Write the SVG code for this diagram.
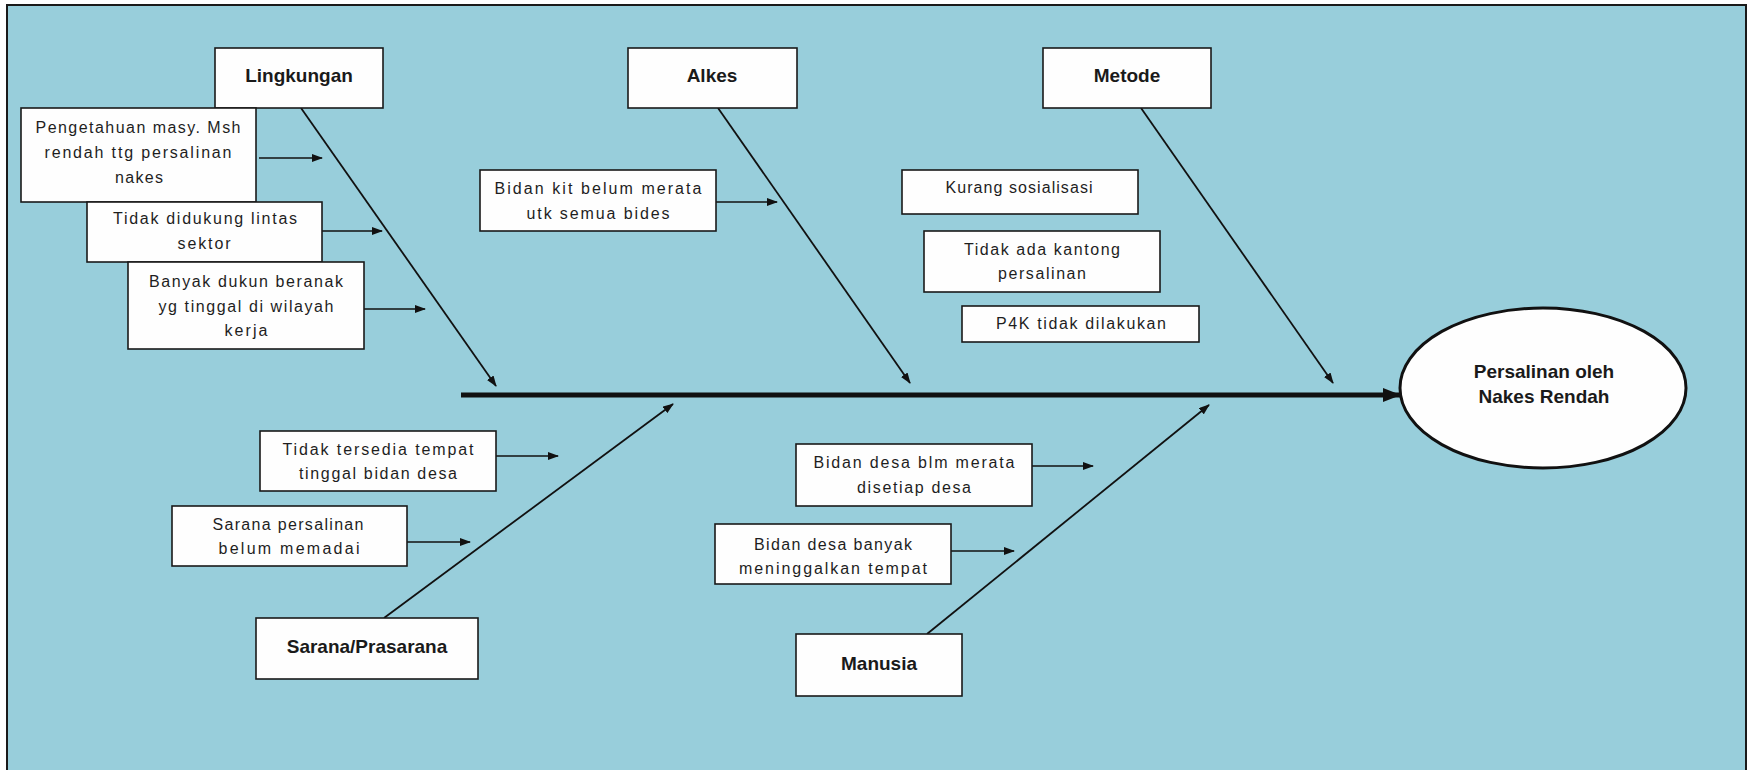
<svg xmlns="http://www.w3.org/2000/svg" width="1752" height="770" viewBox="0 0 1752 770">
  <defs>
    <marker id="tip" markerUnits="userSpaceOnUse" markerWidth="11" markerHeight="8" refX="10" refY="4" orient="auto">
      <path d="M0,0 L11,4 L0,8 z" fill="#111"/>
    </marker>
    <marker id="spineTip" markerUnits="userSpaceOnUse" markerWidth="18" markerHeight="14" refX="17" refY="7" orient="auto">
      <path d="M0,0 L18,7 L0,14 z" fill="#111"/>
    </marker>
    <style>
      .box { fill: #fefefe; stroke: #1a1a1a; stroke-width: 1.6; }
      .head { font-family: "Liberation Sans", Arial, sans-serif; font-weight: bold; font-size: 19px; fill: #1a1a1a; text-anchor: middle; }
      .cause { font-family: "Liberation Sans", Arial, sans-serif; font-size: 16px; fill: #1e1e1e; text-anchor: middle; }
      .bone { stroke: #111; stroke-width: 1.8; fill: none; }
      .spine { stroke: #111; stroke-width: 5; fill: none; }
      .twig { stroke: #111; stroke-width: 1.6; fill: none; }
    </style>
  </defs>

  <!-- backdrop and frame -->
  <rect x="0" y="0" width="1752" height="770" fill="#ffffff"/>
  <rect x="7" y="5" width="1739" height="775" fill="#98cedb" stroke="#1a1a1a" stroke-width="2"/>

  <!-- connectors -->
  <g id="connectors">
    <line class="spine" x1="461" y1="395" x2="1400" y2="395" marker-end="url(#spineTip)"/>
    <line class="bone" x1="301" y1="108" x2="496" y2="386" marker-end="url(#tip)"/>
    <line class="bone" x1="718" y1="108" x2="910" y2="383" marker-end="url(#tip)"/>
    <line class="bone" x1="1141" y1="108" x2="1333" y2="383" marker-end="url(#tip)"/>
    <line class="bone" x1="384" y1="618" x2="673" y2="404" marker-end="url(#tip)"/>
    <line class="bone" x1="927" y1="634" x2="1209" y2="405" marker-end="url(#tip)"/>
    <line class="twig" x1="259" y1="158" x2="322" y2="158" marker-end="url(#tip)"/>
    <line class="twig" x1="322" y1="231" x2="382" y2="231" marker-end="url(#tip)"/>
    <line class="twig" x1="364" y1="309" x2="425" y2="309" marker-end="url(#tip)"/>
    <line class="twig" x1="716" y1="202" x2="777" y2="202" marker-end="url(#tip)"/>
    <line class="twig" x1="496" y1="456" x2="558" y2="456" marker-end="url(#tip)"/>
    <line class="twig" x1="407" y1="542" x2="470" y2="542" marker-end="url(#tip)"/>
    <line class="twig" x1="1032" y1="466" x2="1093" y2="466" marker-end="url(#tip)"/>
    <line class="twig" x1="951" y1="551" x2="1014" y2="551" marker-end="url(#tip)"/>
  </g>

  <!-- category heads -->
  <g id="lingkungan">
    <rect class="box" x="215" y="48" width="168" height="60"/>
    <text class="head" x="299" y="82">Lingkungan</text>
  </g>
  <g id="alkes">
    <rect class="box" x="628" y="48" width="169" height="60"/>
    <text class="head" x="712" y="82">Alkes</text>
  </g>
  <g id="metode">
    <rect class="box" x="1043" y="48" width="168" height="60"/>
    <text class="head" x="1127" y="82">Metode</text>
  </g>
  <g id="sarana-prasarana">
    <rect class="box" x="256" y="618" width="222" height="61"/>
    <text class="head" x="367" y="653">Sarana/Prasarana</text>
  </g>
  <g id="manusia">
    <rect class="box" x="796" y="634" width="166" height="62"/>
    <text class="head" x="879" y="670">Manusia</text>
  </g>

  <!-- effect -->
  <g id="effect">
    <ellipse cx="1543" cy="388" rx="143" ry="80" fill="#fefefe" stroke="#111" stroke-width="3"/>
    <text class="head" x="1544" y="378">Persalinan oleh</text>
    <text class="head" x="1544" y="403">Nakes Rendah</text>
  </g>

  <!-- Lingkungan causes -->
  <g id="pengetahuan">
    <rect class="box" x="21" y="108" width="235" height="94"/>
    <text class="cause" x="138" y="133" textLength="205" lengthAdjust="spacing">Pengetahuan masy. Msh</text>
    <text class="cause" x="138" y="158" textLength="187" lengthAdjust="spacing">rendah ttg persalinan</text>
    <text class="cause" x="139" y="183" textLength="48" lengthAdjust="spacing">nakes</text>
  </g>
  <g id="lintas-sektor">
    <rect class="box" x="87" y="202" width="235" height="60"/>
    <text class="cause" x="205" y="224" textLength="184" lengthAdjust="spacing">Tidak didukung lintas</text>
    <text class="cause" x="204" y="249" textLength="53" lengthAdjust="spacing">sektor</text>
  </g>
  <g id="dukun-beranak">
    <rect class="box" x="128" y="262" width="236" height="87"/>
    <text class="cause" x="246" y="287" textLength="194" lengthAdjust="spacing">Banyak dukun beranak</text>
    <text class="cause" x="246" y="312" textLength="175" lengthAdjust="spacing">yg tinggal di wilayah</text>
    <text class="cause" x="246" y="336" textLength="43" lengthAdjust="spacing">kerja</text>
  </g>

  <!-- Alkes cause -->
  <g id="bidan-kit">
    <rect class="box" x="480" y="170" width="236" height="61"/>
    <text class="cause" x="598" y="194" textLength="207" lengthAdjust="spacing">Bidan kit belum merata</text>
    <text class="cause" x="598" y="219" textLength="143" lengthAdjust="spacing">utk semua bides</text>
  </g>

  <!-- Metode causes -->
  <g id="sosialisasi">
    <rect class="box" x="902" y="170" width="236" height="44"/>
    <text class="cause" x="1019" y="193" textLength="147" lengthAdjust="spacing">Kurang sosialisasi</text>
  </g>
  <g id="kantong-persalinan">
    <rect class="box" x="924" y="231" width="236" height="61"/>
    <text class="cause" x="1042" y="255" textLength="156" lengthAdjust="spacing">Tidak ada kantong</text>
    <text class="cause" x="1042" y="279" textLength="88" lengthAdjust="spacing">persalinan</text>
  </g>
  <g id="p4k">
    <rect class="box" x="962" y="306" width="237" height="36"/>
    <text class="cause" x="1081" y="329" textLength="170" lengthAdjust="spacing">P4K tidak dilakukan</text>
  </g>

  <!-- Sarana/Prasarana causes -->
  <g id="tempat-tinggal">
    <rect class="box" x="260" y="431" width="236" height="60"/>
    <text class="cause" x="378" y="455" textLength="191" lengthAdjust="spacing">Tidak tersedia tempat</text>
    <text class="cause" x="378" y="479" textLength="158" lengthAdjust="spacing">tinggal bidan desa</text>
  </g>
  <g id="sarana-persalinan">
    <rect class="box" x="172" y="506" width="235" height="60"/>
    <text class="cause" x="288" y="530" textLength="151" lengthAdjust="spacing">Sarana persalinan</text>
    <text class="cause" x="289" y="554" textLength="141" lengthAdjust="spacing">belum memadai</text>
  </g>

  <!-- Manusia causes -->
  <g id="bidan-desa-merata">
    <rect class="box" x="796" y="444" width="236" height="62"/>
    <text class="cause" x="914" y="468" textLength="201" lengthAdjust="spacing">Bidan desa blm merata</text>
    <text class="cause" x="914" y="493" textLength="114" lengthAdjust="spacing">disetiap desa</text>
  </g>
  <g id="bidan-desa-pergi">
    <rect class="box" x="715" y="524" width="236" height="60"/>
    <text class="cause" x="833" y="550" textLength="158" lengthAdjust="spacing">Bidan desa banyak</text>
    <text class="cause" x="833" y="574" textLength="188" lengthAdjust="spacing">meninggalkan tempat</text>
  </g>
</svg>
